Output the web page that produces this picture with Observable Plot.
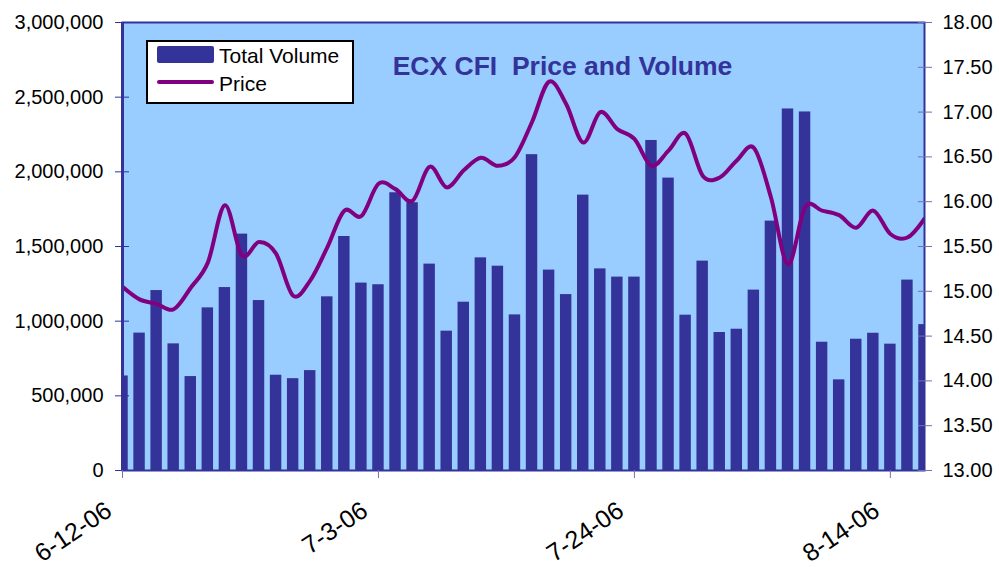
<!DOCTYPE html>
<html>
<head>
<meta charset="utf-8">
<script src="https://cdn.jsdelivr.net/npm/d3@7"></script>
<script src="https://cdn.jsdelivr.net/npm/@observablehq/plot@0.6"></script>
<style>
  html, body { margin: 0; padding: 0; background: #fff; }
  #wrap { position: relative; width: 999px; height: 567px; font-family: "Liberation Sans", Arial, sans-serif; }
  #legend { position: absolute; left: 146px; top: 40px; width: 204px; height: 60px; border: 2px solid #000; background: #fff; box-sizing: content-box; }
  #legend .sw-bar { position: absolute; left: 9px; top: 4px; width: 57px; height: 17px; background: #333399; border-radius: 2px; }
  #legend .sw-line { position: absolute; left: 9px; top: 38px; width: 57px; height: 4px; background: #800080; border-radius: 2px; }
  #legend .lab { position: absolute; left: 71px; font-size: 21px; line-height: 21px; color: #000; white-space: nowrap; }
</style>
</head>
<body>
<div id="wrap">
  <div id="chart"></div>
  <div id="legend">
    <div class="sw-bar"></div><div class="lab" style="top:3px">Total Volume</div>
    <div class="sw-line"></div><div class="lab" style="top:31px">Price</div>
  </div>
</div>
<script>
// ---- data ----
const dates = [
  "6-12-06","6-13-06","6-14-06","6-15-06","6-16-06",
  "6-19-06","6-20-06","6-21-06","6-22-06","6-23-06",
  "6-26-06","6-27-06","6-28-06","6-29-06","6-30-06",
  "7-3-06","7-4-06","7-5-06","7-6-06","7-7-06",
  "7-10-06","7-11-06","7-12-06","7-13-06","7-14-06",
  "7-17-06","7-18-06","7-19-06","7-20-06","7-21-06",
  "7-24-06","7-25-06","7-26-06","7-27-06","7-28-06",
  "7-31-06","8-1-06","8-2-06","8-3-06","8-4-06",
  "8-7-06","8-8-06","8-9-06","8-10-06","8-11-06",
  "8-14-06","8-15-06","8-16-06"
];
const totalVolume = [
  633000, 920000, 1205000, 848000, 629000, 1089000, 1225000, 1583000, 1138000, 638000,
  615000, 669000, 1163000, 1567000, 1255000, 1244000, 1860000, 1793000, 1382000, 933000,
  1127000, 1424000, 1368000, 1042000, 2115000, 1342000, 1178000, 1844000, 1350000, 1295000,
  1295000, 2210000, 1958000, 1040000, 1402000, 924000, 946000, 1208000, 1670000, 2421000,
  2401000, 859000, 607000, 879000, 919000, 846000, 1275000, 977000
];
const price = [
  15.05, 14.91, 14.86, 14.80, 15.04, 15.32, 15.96, 15.40, 15.55, 15.42,
  14.95, 15.12, 15.49, 15.90, 15.84, 16.20, 16.14, 16.01, 16.39, 16.16,
  16.35, 16.49, 16.40, 16.50, 16.89, 17.34, 17.09, 16.66, 17.00, 16.81,
  16.70, 16.40, 16.57, 16.76, 16.29, 16.27, 16.46, 16.60, 16.05, 15.30,
  15.94, 15.90, 15.85, 15.71, 15.90, 15.64, 15.60, 15.81
];
const labelDates = ["6-12-06", "7-3-06", "7-24-06", "8-14-06"];
const volumeTicks = [0, 500000, 1000000, 1500000, 2000000, 2500000, 3000000];
const priceTicks = [13.0, 13.5, 14.0, 14.5, 15.0, 15.5, 16.0, 16.5, 17.0, 17.5, 18.0];
const volumeDomain = [0, 3000000];
const priceDomain = [13, 18];
const title = "ECX CFI  Price and Volume";

// ---- build ----
const rows = dates.map((d, i) => ({i, date: d, volume: totalVolume[i], price: price[i]}));
const k = (volumeDomain[1] - volumeDomain[0]) / (priceDomain[1] - priceDomain[0]);
const p2v = p => volumeDomain[0] + (p - priceDomain[0]) * k;
const v2p = v => priceDomain[0] + (v - volumeDomain[0]) / k;
const labelIdx = labelDates.map(d => dates.indexOf(d));
const half = 0.335;

const chart = Plot.plot({
  width: 999,
  height: 567,
  marginLeft: 122,
  marginRight: 75,
  marginTop: 22,
  marginBottom: 97,
  style: {fontFamily: "'Liberation Sans', Arial, sans-serif", fontSize: "20px", background: "#fff", color: "#000"},
  x: {domain: [0, dates.length - 1], axis: null, label: null},
  y: {domain: volumeDomain, axis: null, label: null},
  marks: [
    Plot.frame({fill: "#99CCFF"}),
    Plot.rectY(rows, {x1: d => d.i - half, x2: d => d.i + half, y1: 0, y2: "volume", fill: "#333399", clip: true}),
    Plot.line(rows, {x: "i", y: d => p2v(d.price), stroke: "#800080", strokeWidth: 4, curve: "cardinal", tension: 0, clip: true}),
    Plot.frame({stroke: "#333399", strokeWidth: 2}),
    Plot.ruleX([0], {stroke: "#333399", strokeWidth: 3}),
    Plot.axisY({anchor: "left", label: null, ticks: volumeTicks, tickFormat: d3.format(","), tickSize: 14, dx: 7, tickPadding: 12, stroke: "#333399", fill: "#000", fontSize: 20}),
    Plot.axisY({anchor: "right", label: null, ticks: priceTicks.map(p2v), tickFormat: v => v2p(v).toFixed(2), tickSize: 14, dx: -7, tickPadding: 11, stroke: "#7070b8", fill: "#000", fontSize: 20}),
    Plot.axisX({anchor: "bottom", label: null, ticks: labelIdx, tickFormat: () => "", tickSize: 8, stroke: "#7070b8"}),
    Plot.text(labelIdx, {x: d => d, text: d => dates[d], frameAnchor: "bottom", rotate: -34, textAnchor: "end", lineAnchor: "bottom", dx: -9, dy: 44, fontSize: 25, fill: "#000"}),
    Plot.text([title], {text: d => d, frameAnchor: "top-left", dx: 440, dy: 52, textAnchor: "middle", lineAnchor: "bottom", fontSize: 26.5, fontWeight: "bold", fill: "#333399"})
  ]
});
document.getElementById("chart").appendChild(chart);
</script>
</body>
</html>
